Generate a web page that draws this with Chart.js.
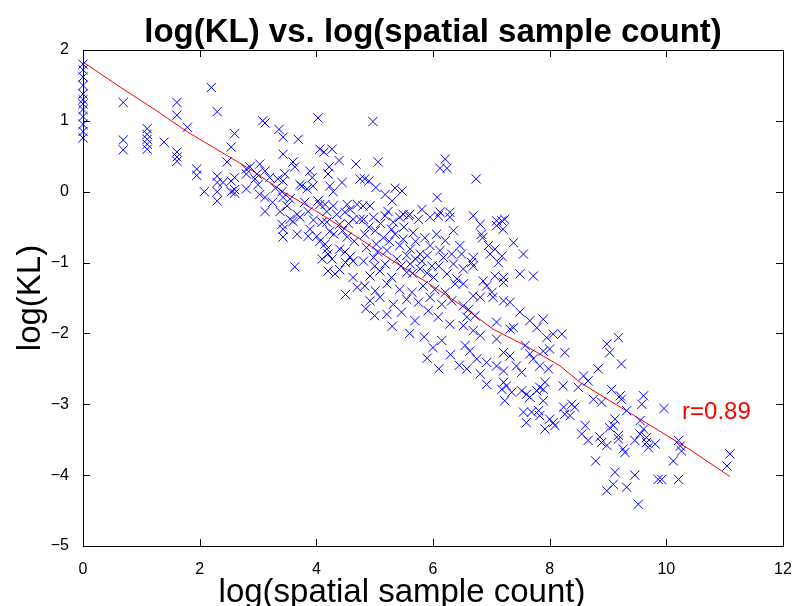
<!DOCTYPE html>
<html>
<head>
<meta charset="utf-8">
<script src="https://cdn.jsdelivr.net/npm/chart.js@4.4.1/dist/chart.umd.min.js"></script>
<style>
  html, body { margin: 0; padding: 0; background: #fff; }
  #wrap { width: 800px; height: 606px; }
</style>
</head>
<body>
<div id="wrap"><canvas id="chart" width="800" height="606"></canvas></div>
<script>
// log(spatial sample count) and log(KL) for each sample
const logCount = [
  0, 0, 0, 0, 0, 0, 0, 0, 0, 0, 0, 0,
  0.69, 0.69, 0.69,
  1.1, 1.1, 1.1, 1.1, 1.1,
  1.39, 1.61, 1.61, 1.61, 1.61, 1.61, 1.79, 1.95, 1.95, 2.08, 2.2,
  2.3, 2.3, 2.3, 2.3, 2.3, 2.4, 2.47, 2.54, 2.54, 2.54, 2.6, 2.6, 2.6, 2.6, 2.8, 2.8, 2.8,
  // 2.9 - 4.8
  3.12, 3.08, 4.03, 3.36, 3.43, 3.69, 4.06, 4.27, 4.13, 3.43, 4.39, 4.68, 3.6, 3.63, 3.03, 2.86,
  3.12, 2.98, 4.22, 3.89, 4.2, 3.46, 3.34, 3.43, 3.93, 4.44, 2.95, 3.2, 4.23, 4.29, 3.75, 3.84,
  3.94, 3.03, 3.12, 3.41, 3.43, 3.72, 4.03, 4.53, 4.7, 4.06, 4.15, 4.29, 3.12, 3.38, 3.67, 3.72,
  3.55, 3.6, 3.86, 4.18, 4.35, 4.49, 4.58, 4.63, 4.75, 3.41, 3.43, 4.1, 4.18, 4.4, 3.89, 4.23,
  3.67, 3.86, 3.43, 4.01, 4.06, 4.15, 4.18, 4.53, 4.4, 4.49, 4.27, 4.2, 4.58, 4.63, 3.63, 4.2,
  4.32, 4.63, 4.7, 3.5, 3.55, 3.8, 3.95, 4.3, 4.45, 4.55, 4.65, 4.1, 3.25, 3.3, 3.0, 4.5, 4.4,
  4.5, 4.85,
  // 4.7 - 6.5 upper
  4.97, 5.06, 6.21, 6.12, 6.24, 4.75, 4.83, 4.9, 5.02, 5.35, 5.47, 5.18, 5.3, 6.07, 4.8, 4.92,
  5.23, 5.81, 6.12, 6.29, 5.49, 5.6,
  // 4.7 - 6.5 dense band
  4.81, 4.98, 5.18, 5.32, 5.43, 5.58, 5.75, 5.95, 6.09, 6.29,
  4.83, 5.01, 5.15, 5.29, 5.49, 5.66, 5.86, 6.06, 6.21, 6.35,
  4.86, 5.03, 5.21, 5.43, 5.61, 5.78, 5.95, 6.12, 6.32,
  4.81, 4.98, 5.18, 5.38, 5.61, 5.81, 5.98, 6.18, 6.35,
  4.92, 5.09, 5.29, 5.55, 5.78, 6.01, 6.24, 6.41,
  4.83, 5.01, 5.21, 5.43, 5.64, 5.83, 6.03, 6.21, 6.38,
  4.92, 5.09, 5.32, 5.55, 5.75, 5.95, 6.15, 6.32,
  5.21, 5.46, 5.69, 5.92, 6.09, 6.29,
  4.9, 5.1, 5.25, 5.35, 5.5, 5.7, 5.55, 5.7, 5.9, 5.05, 5.45, 5.65, 5.9, 6.1, 5.0,
  5.0, 5.3, 5.6, 5.85, 6.0, 6.15, 6.3, 6.45, 6.1, 5.9,
  // 6.4 - 8.2 upper
  6.74, 6.69, 6.81, 6.83, 6.85, 7.09, 7.18, 7.23, 7.09, 7.2, 6.95, 7.06, 6.98, 7.38, 7.55, 6.46,
  6.49, 7.18, 6.69,
  // 6.4 - 8.2 middle
  6.66, 6.69, 7.12, 7.49, 7.72, 6.52, 7.06, 7.21, 7.21, 6.86, 6.92, 6.52, 7.01, 7.03, 6.69, 6.81,
  7.21, 7.32, 6.52, 6.61, 7.49, 7.66, 7.78, 7.89, 7.09, 7.38, 7.32, 6.72, 6.58, 6.52, 6.69, 6.81,
  7.09, 7.95, 8.06, 6.55, 6.63, 7.58, 7.21, 7.32, 7.66, 7.72, 7.89, 8.0, 6.75, 6.92, 7.09, 7.21,
  7.43, 7.52, 7.83, 7.98, 6.58, 6.81,
  // 6.4 - 8.2 lower
  6.92, 7.21, 7.26, 7.18, 7.35, 7.23, 7.52, 7.6, 7.66, 7.78, 7.83, 7.92, 7.89, 7.89, 7.55, 7.69,
  7.81, 7.83, 7.6, 8.0, 8.06, 8.09, 7.92,
  // 8.2 - 9.9
  9.18, 8.98, 9.03, 8.21, 8.26, 9.23, 8.83, 8.58, 8.66, 8.23, 8.49, 9.06, 9.21, 9.23, 9.61, 9.58,
  8.75, 8.89, 8.38, 8.43, 8.24, 8.26, 8.35, 9.32, 9.12, 9.09, 9.03, 9.55, 9.61, 9.55, 8.61, 8.55,
  9.18, 9.66, 8.86,
  8.66, 8.89, 8.98, 9.18, 9.26, 9.29, 9.46, 9.66, 9.69, 9.81, 8.79, 9.12, 9.46, 9.09, 8.98, 9.32,
  9.52, 9.86,
  // 9.9 - 11.1
  9.96, 10.21, 10.24, 10.26, 10.12, 9.92, 10.21, 11.09, 11.04
];
const logKL = [
  1.8, 1.72, 1.62, 1.5, 1.38, 1.3, 1.24, 1.16, 1.06, 0.95, 0.85, 0.76,
  1.26, 0.73, 0.59,
  0.89, 0.81, 0.74, 0.67, 0.6,
  0.7, 1.26, 1.08, 0.56, 0.49, 0.43, 0.91, 0.32, 0.23, 0.0, 1.47,
  1.13, 0.22, 0.13, 0.0, -0.13, 0.13, 0.42, 0.63, 0.15, 0.0, 0.82, 0.2, 0.03, -0.02, 0.32, 0.25, 0.04,
  // 2.9 - 4.8
  0.97, 1.0, 1.04, 0.88, 0.77, 0.74, 0.6, 0.6, 0.56, 0.53, 0.44, 0.39, 0.42, 0.35, 0.39, 0.35,
  0.29, 0.25, 0.35, 0.29, 0.25, 0.25, 0.18, 0.15, 0.2, 0.13, 0.18, 0.2, 0.08, 0.0, 0.08, 0.04,
  0.08, -0.04, -0.08, 0.0, -0.08, 0.1, -0.13, -0.18, -0.18, -0.18, -0.18, -0.2, -0.28, -0.28, -0.32, -0.36,
  -0.39, -0.42, -0.28, -0.28, -0.32, -0.29, -0.25, -0.39, -0.39, -0.46, -0.53, -0.43, -0.43, -0.46, -0.53, -0.56,
  -0.6, -0.63, -0.64, -0.63, -0.7, -0.74, -0.81, -0.64, -0.81, -0.85, -0.95, -0.88, -0.92, -0.98, -1.06, -1.12,
  -1.16, -1.21, -1.35, -0.2, -0.1, -0.15, -0.4, -0.6, -0.55, -0.45, -0.7, -0.95, -0.15, 0.05, 0.1, -1.0, -1.1,
  -1.45, -1.65,
  // 4.7 - 6.5 upper
  0.99, 0.42, 0.46, 0.33, 0.33, 0.18, 0.18, 0.15, 0.06, 0.05, 0.01, -0.04, -0.13, -0.08, -0.2, -0.2,
  -0.28, -0.25, -0.29, -0.29, -0.32, -0.32,
  // 4.7 - 6.5 dense band
  -0.39, -0.36, -0.34, -0.43, -0.36, -0.34, -0.39, -0.36, -0.34, -0.36,
  -0.6, -0.55, -0.65, -0.53, -0.67, -0.58, -0.65, -0.6, -0.69, -0.55,
  -0.79, -0.74, -0.83, -0.76, -0.81, -0.88, -0.76, -0.83, -0.88,
  -0.98, -0.93, -1.02, -0.95, -1.02, -0.98, -1.05, -0.93, -1.02,
  -1.19, -1.12, -1.21, -1.14, -1.09, -1.21, -1.16, -1.23,
  -1.33, -1.4, -1.3, -1.38, -1.42, -1.33, -1.38, -1.42, -1.3,
  -1.54, -1.49, -1.59, -1.52, -1.56, -1.49, -1.59, -1.54,
  -1.73, -1.7, -1.82, -1.68, -1.77, -1.87,
  -0.5, -0.45, -0.7, -0.6, -0.5, -0.7, -0.9, -0.95, -0.9, -0.85, -1.05, -1.15, -1.15, -1.05, -1.05,
  -1.75, -1.9, -2.0, -2.05, -2.2, -2.1, -2.3, -2.45, -2.5, -2.35,
  // 6.4 - 8.2 upper
  0.18, -0.34, -0.46, -0.6, -0.65, -0.41, -0.41, -0.39, -0.48, -0.53, -0.76, -0.81, -0.88, -0.72, -0.88, -0.76,
  -0.88, -0.91, -0.93,
  // 6.4 - 8.2 middle
  -1.0, -1.05, -1.0, -1.16, -1.19, -1.09, -1.19, -1.21, -1.28, -1.26, -1.33, -1.3, -1.42, -1.49, -1.47, -1.49,
  -1.54, -1.56, -1.61, -1.66, -1.7, -1.82, -1.92, -1.8, -1.84, -1.92, -1.94, -1.75, -1.77, -1.89, -1.96, -2.03,
  -2.08, -2.06, -2.01, -2.17, -2.25, -2.17, -2.27, -2.32, -2.29, -2.36, -2.25, -2.22, -2.36, -2.41, -2.46, -2.53,
  -2.46, -2.55, -2.46, -2.5, -2.5, -2.57,
  // 6.4 - 8.2 lower
  -2.72, -2.69, -2.74, -2.79, -2.83, -2.95, -2.81, -2.86, -2.9, -2.81, -2.76, -2.69, -2.79, -2.95, -3.11, -3.11,
  -3.09, -3.16, -3.26, -3.21, -3.26, -3.3, -3.35,
  // 8.2 - 9.9
  -2.06, -2.15, -2.27, -2.01, -2.27, -2.43, -2.5, -2.6, -2.67, -2.74, -2.76, -2.79, -2.88, -2.93, -2.88, -3.0,
  -2.93, -2.97, -3.0, -3.04, -3.04, -3.14, -3.16, -3.09, -3.21, -3.3, -3.33, -3.23, -3.35, -3.42, -3.3, -3.42,
  -3.44, -3.47, -3.46,
  -3.51, -3.54, -3.58, -3.49, -3.63, -3.68, -3.51, -3.54, -3.61, -3.56, -3.8, -3.96, -4.0, -4.13, -4.22, -4.17,
  -4.41, -4.06,
  // 9.9 - 11.1
  -3.06, -3.51, -3.59, -3.66, -3.8, -4.06, -4.06, -3.7, -3.87
];

// red trend line
const fitX = [0, 0.65, 1.23, 1.8, 2.43, 2.86, 3.43, 4.01, 4.7, 5.32, 5.9, 6.46, 7.03, 7.6, 8.18, 8.52, 9.03, 9.89, 10.46, 11.09];
const fitY = [1.83, 1.47, 1.16, 0.84, 0.53, 0.32, 0.0, -0.28, -0.64, -0.98, -1.28, -1.59, -1.94, -2.18, -2.46, -2.69, -2.95, -3.38, -3.67, -4.02];

const xTicks = [0, 2, 4, 6, 8, 10, 12];
const yTicks = [-5, -4, -3, -2, -1, 0, 1, 2];

const corrLabel = "r=0.89";

const FONT = "'Liberation Sans', Arial, sans-serif";

const samples = logCount.map((x, i) => ({ x: x, y: logKL[i] }));
const fitLine = fitX.map((x, i) => ({ x: x, y: fitY[i] }));

const minus = v => String(v).replace("-", "\u2212");

// box around the axes with inward ticks, plus the titles and the r label
const matlabAxes = {
  id: "matlabAxes",
  afterDraw(chart) {
    const { ctx, chartArea: a, scales: { x, y } } = chart;
    ctx.save();
    ctx.strokeStyle = "#000";
    ctx.lineWidth = 1;
    ctx.strokeRect(a.left + 0.5, a.top + 0.5, a.right - a.left, a.bottom - a.top);
    const tl = 7;
    ctx.beginPath();
    xTicks.forEach(v => {
      const px = Math.round(x.getPixelForValue(v)) + 0.5;
      ctx.moveTo(px, a.bottom); ctx.lineTo(px, a.bottom - tl);
      ctx.moveTo(px, a.top); ctx.lineTo(px, a.top + tl);
    });
    yTicks.forEach(v => {
      const py = Math.round(y.getPixelForValue(v)) + 0.5;
      ctx.moveTo(a.left, py); ctx.lineTo(a.left + tl, py);
      ctx.moveTo(a.right, py); ctx.lineTo(a.right - tl, py);
    });
    ctx.stroke();

    ctx.fillStyle = "#000";
    ctx.textAlign = "center";
    ctx.textBaseline = "alphabetic";
    ctx.font = "bold 33px " + FONT;
    ctx.fillText("log(KL) vs. log(spatial sample count)", (a.left + a.right) / 2, 42);

    ctx.font = "33px " + FONT;
    ctx.fillText("log(spatial sample count)", 402, 602);

    ctx.save();
    ctx.translate(40, (a.top + a.bottom) / 2);
    ctx.rotate(-Math.PI / 2);
    ctx.fillText("log(KL)", 0, 0);
    ctx.restore();

    ctx.fillStyle = "#ff0000";
    ctx.textAlign = "left";
    ctx.textBaseline = "middle";
    ctx.font = "24px " + FONT;
    ctx.fillText(corrLabel, x.getPixelForValue(10.27), y.getPixelForValue(-3.11));
    ctx.restore();
  }
};

new Chart(document.getElementById("chart"), {
  type: "scatter",
  data: {
    datasets: [
      {
        data: samples,
        pointStyle: "crossRot",
        pointRadius: 6.5,
        pointHoverRadius: 6.5,
        borderColor: "#0000ff",
        backgroundColor: "#0000ff",
        borderWidth: 1,
        clip: false
      },
      {
        data: fitLine,
        showLine: true,
        borderColor: "#ff0000",
        borderWidth: 1,
        pointRadius: 0,
        fill: false
      }
    ]
  },
  options: {
    responsive: false,
    animation: false,
    layout: { padding: { top: 50, right: 17, left: 0, bottom: 0 } },
    plugins: {
      legend: { display: false },
      tooltip: { enabled: false }
    },
    scales: {
      x: {
        type: "linear",
        min: 0, max: 12,
        afterFit: s => { s.height = 60; },
        afterBuildTicks: s => { s.ticks = xTicks.map(v => ({ value: v })); },
        grid: { display: false },
        border: { display: false },
        ticks: {
          color: "#000",
          font: { family: FONT, size: 16 },
          padding: 6,
          callback: v => minus(v)
        }
      },
      y: {
        type: "linear",
        min: -5, max: 2,
        afterFit: s => { s.width = 83; },
        afterBuildTicks: s => { s.ticks = yTicks.map(v => ({ value: v })); },
        grid: { display: false },
        border: { display: false },
        ticks: {
          color: "#000",
          font: { family: FONT, size: 16 },
          padding: 6,
          callback: v => minus(v)
        }
      }
    }
  },
  plugins: [matlabAxes]
});
</script>
</body>
</html>
